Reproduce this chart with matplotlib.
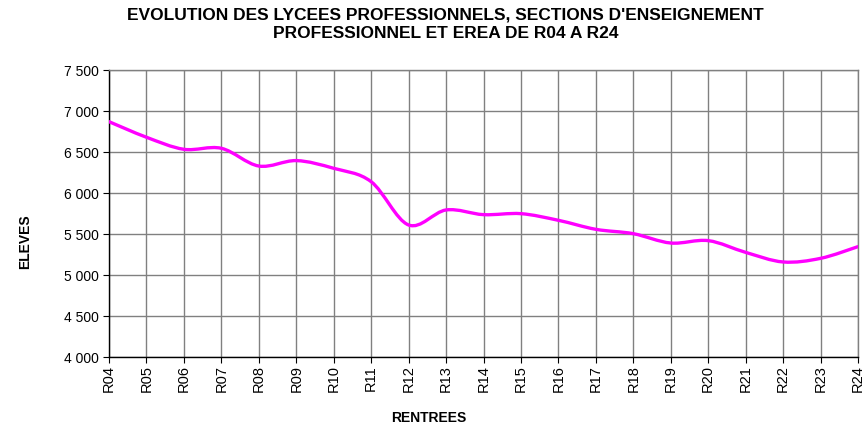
import numpy as np
import matplotlib
matplotlib.use('Agg')
import matplotlib.pyplot as plt
from matplotlib.path import Path
from matplotlib.patches import PathPatch
from matplotlib.ticker import FuncFormatter

plt.rcParams['font.family'] = ['Liberation Sans', 'DejaVu Sans']

rentrees = ['R04', 'R05', 'R06', 'R07', 'R08', 'R09', 'R10', 'R11', 'R12', 'R13', 'R14',
            'R15', 'R16', 'R17', 'R18', 'R19', 'R20', 'R21', 'R22', 'R23', 'R24']
eleves = [6870, 6680, 6533, 6545, 6329, 6395, 6301, 6138, 5610, 5793, 5736,
          5748, 5667, 5557, 5504, 5390, 5419, 5276, 5159, 5203, 5346]
y_ticks = [4000, 4500, 5000, 5500, 6000, 6500, 7000, 7500]


def smooth_path(xs, ys):
    # Bezier segments with Catmull-Rom style control points (spreadsheet "smoothed line")
    verts = [(xs[0], ys[0])]
    codes = [Path.MOVETO]
    n = len(xs)
    for i in range(n - 1):
        x0, y0 = xs[max(i - 1, 0)], ys[max(i - 1, 0)]
        x1, y1 = xs[i], ys[i]
        x2, y2 = xs[i + 1], ys[i + 1]
        x3, y3 = xs[min(i + 2, n - 1)], ys[min(i + 2, n - 1)]
        c1 = (x1 + (x2 - x0) / 6, y1 + (y2 - y0) / 6)
        c2 = (x2 - (x3 - x1) / 6, y2 - (y3 - y1) / 6)
        verts += [c1, c2, (x2, y2)]
        codes += [Path.CURVE4] * 3
    return Path(verts, codes)


W, H = 867, 433
fig = plt.figure(figsize=(W / 100, H / 100), dpi=100)
ax = fig.add_axes([109 / W, 1 - 357 / H, (858 - 109) / W, (357 - 70) / H])

x = np.arange(len(rentrees))
ax.add_patch(PathPatch(smooth_path(x, eleves), facecolor='none', edgecolor='#FF00FF',
                       linewidth=2.4, capstyle='round', zorder=3))

ax.set_xlim(0, len(rentrees) - 1)
ax.set_ylim(4000, 7500)
ax.set_xticks(x)
ax.set_xticklabels(rentrees, rotation=90, fontsize=10.5)
ax.set_yticks(y_ticks)
ax.yaxis.set_major_formatter(FuncFormatter(lambda v, p: f'{int(v):,}'.replace(',', ' ')))
ax.tick_params(axis='y', labelsize=10, length=4, color='black', pad=3)
ax.tick_params(axis='x', length=4, color='black', pad=2)

ax.grid(True, color='#808080', linewidth=1.0)
ax.set_axisbelow(True)
for side in ('top', 'right'):
    ax.spines[side].set_color('#808080')
    ax.spines[side].set_linewidth(1.0)
for side in ('left', 'bottom'):
    ax.spines[side].set_color('black')
    ax.spines[side].set_linewidth(1.0)

# axis titles
fig.text(25.5 / W, 1 - 242 / H, 'ELEVES', rotation=90, ha='center', va='center',
         fontsize=10, fontweight='bold')
fig.text(429 / W, 1 - 418 / H, 'RENTREES', ha='center', va='center',
         fontsize=10, fontweight='bold')

# chart title, two centred lines
fig.text(445.5 / W, 1 - 15.5 / H, "EVOLUTION DES LYCEES PROFESSIONNELS, SECTIONS D'ENSEIGNEMENT",
         ha='center', va='center', fontsize=12.5, fontweight='bold')
fig.text(446 / W, 1 - 33 / H, "PROFESSIONNEL ET EREA DE R04 A R24",
         ha='center', va='center', fontsize=12.5, fontweight='bold')

fig.savefig('out.png', dpi=100)
plt.close(fig)
